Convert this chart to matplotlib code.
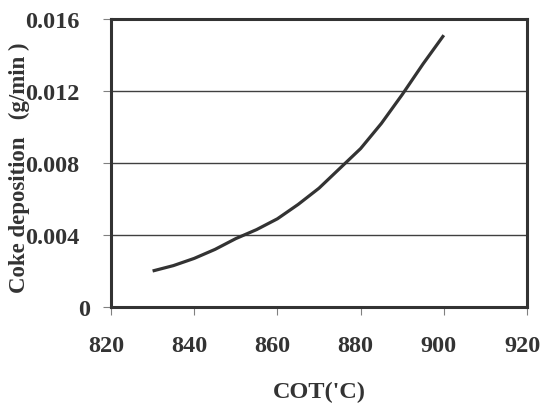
import matplotlib
matplotlib.use("Agg")
import matplotlib.pyplot as plt
import matplotlib.transforms as mtransforms

cot = [830, 835, 840, 845, 850, 855, 860, 865, 870, 875, 880, 885, 890, 895, 900]
coke = [0.0020, 0.0023, 0.0027, 0.0032, 0.0038, 0.0043, 0.0049, 0.0057,
        0.0066, 0.0077, 0.0088, 0.0102, 0.0118, 0.0135, 0.0151]
xticks = [820, 840, 860, 880, 900, 920]
yticks = [0, 0.004, 0.008, 0.012, 0.016]
ytick_labels = ["0", "0.004", "0.008", "0.012", "0.016"]

plt.rcParams['font.family'] = ['Liberation Serif', 'DejaVu Serif']
plt.rcParams['font.weight'] = 'bold'

dark = '#333333'
fs = 17.5
fig = plt.figure(figsize=(5.4, 4.06), dpi=100)
ax = fig.add_axes([111/540, 1-308/406, 416/540, 288/406])

ax.plot(cot, coke, color=dark, lw=2.3, solid_capstyle='butt',
        solid_joinstyle='round')

ax.set_xlim(820, 920)
ax.set_ylim(0, 0.016)
ax.set_xticks(xticks)
ax.set_xticklabels([str(v) for v in xticks])
ax.set_yticks(yticks)
ax.set_yticklabels(ytick_labels)

for yv in yticks[1:-1]:
    ax.axhline(yv, color='#404040', lw=1.0, zorder=1)

for s in ax.spines.values():
    s.set_linewidth(2.2)
    s.set_color(dark)

ax.tick_params(axis='both', direction='out', length=5.5, width=0.8,
               color='#808080', labelsize=fs, labelcolor=dark)
ax.tick_params(axis='y', pad=17)
ax.tick_params(axis='x', pad=15)

off_x = mtransforms.ScaledTranslation(-0.05, 0, fig.dpi_scale_trans)
for lbl in ax.get_xticklabels():
    lbl.set_transform(lbl.get_transform() + off_x)
    lbl.set_fontweight('bold')
off0 = mtransforms.ScaledTranslation(0.10, 0, fig.dpi_scale_trans)
ylbls = ax.get_yticklabels()
ylbls[0].set_transform(ylbls[0].get_transform() + off0)
for lbl in ylbls:
    lbl.set_fontweight('bold')

fig.text(319/540, 1-392/406, "COT('C)", ha='center', va='center',
         fontsize=fs, fontweight='bold', color=dark)
fig.text(19/540, 1-168/406, "Coke deposition   (g/min )", ha='center',
         va='center', rotation=90, fontsize=16.5, fontweight='bold', color=dark)

fig.savefig("out.png", dpi=100)
